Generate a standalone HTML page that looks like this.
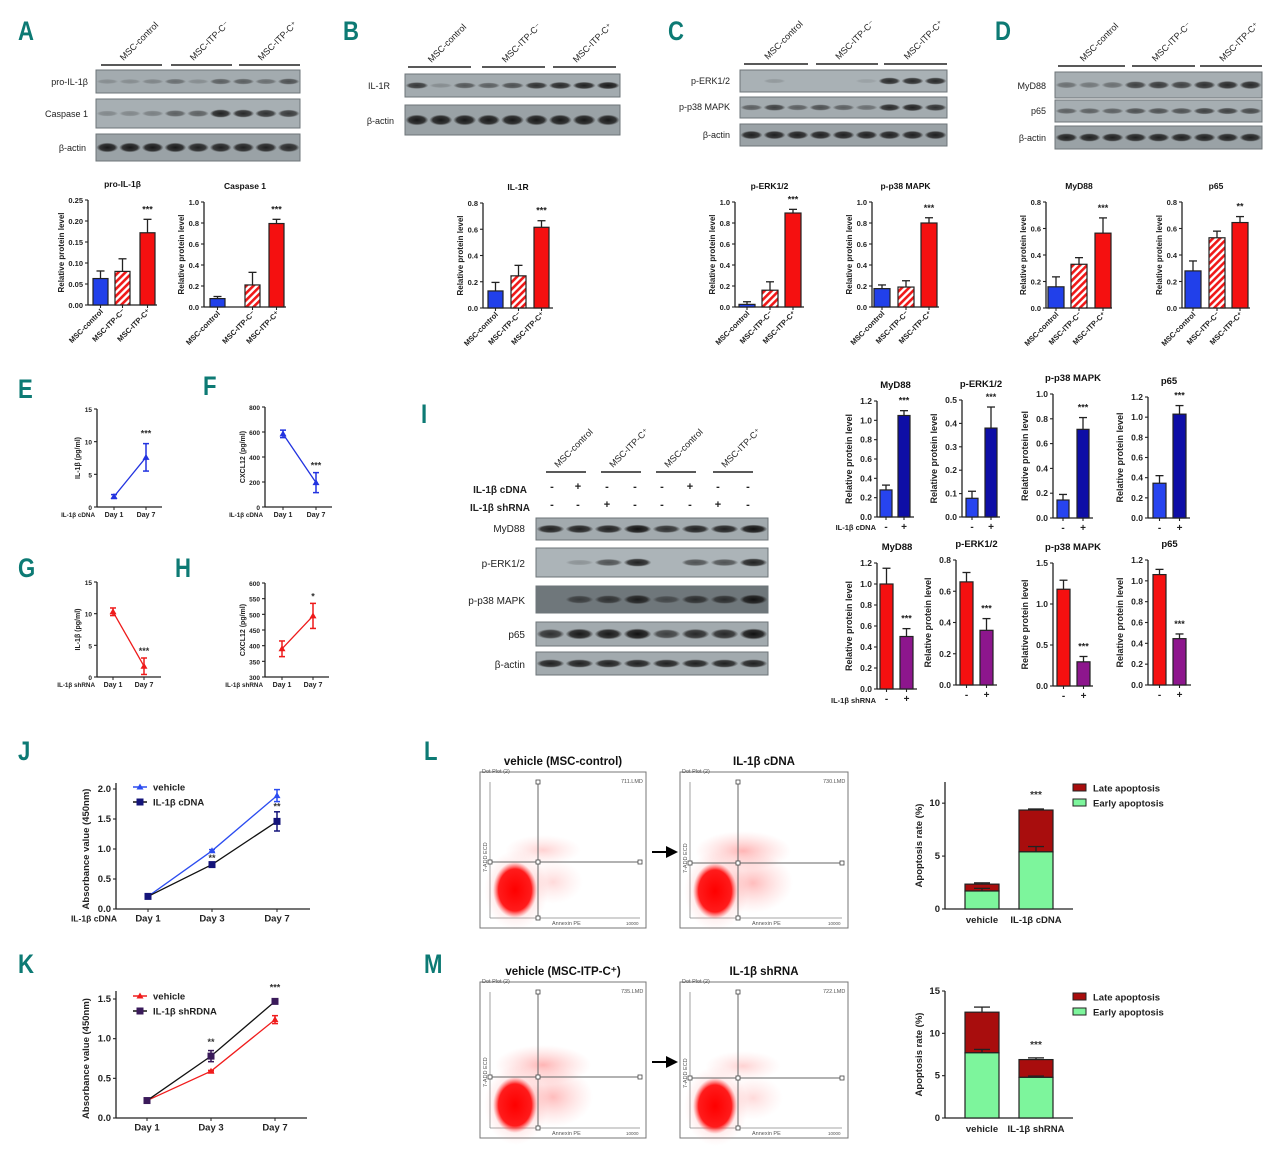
<!DOCTYPE html>
<html><head><meta charset="utf-8"><style>
html,body{margin:0;padding:0;background:#fff}
svg{display:block}
text{font-family:"Liberation Sans",Arial,sans-serif}
</style></head><body>
<svg id="fig" width="1280" height="1155" viewBox="0 0 1280 1155" xmlns="http://www.w3.org/2000/svg">
<defs>
<pattern id="hatch" patternUnits="userSpaceOnUse" width="5" height="5" patternTransform="rotate(45)">
<rect width="5" height="5" fill="#fff"/><rect width="2.6" height="5" fill="#f01818"/></pattern>
<radialGradient id="dense"><stop offset="0" stop-color="#f00" stop-opacity="1"/><stop offset="0.75" stop-color="#f11" stop-opacity="0.95"/><stop offset="1" stop-color="#f55" stop-opacity="0"/></radialGradient>
<radialGradient id="sparse"><stop offset="0" stop-color="#f44" stop-opacity="0.4"/><stop offset="1" stop-color="#f88" stop-opacity="0"/></radialGradient>
<radialGradient id="band"><stop offset="0" stop-color="#111" stop-opacity="1"/><stop offset="0.7" stop-color="#222" stop-opacity="0.9"/><stop offset="1" stop-color="#333" stop-opacity="0"/></radialGradient>
</defs>
</svg>
<script>
// ---------- data ----------
const catsABCD = ['MSC-control','MSC-ITP-C\u207B','MSC-ITP-C\u207A'];
const valsProIL=[0.063,0.080,0.172], errProIL=[0.018,0.030,0.032];
const valsCasp=[0.08,0.21,0.795], errCasp=[0.02,0.12,0.04];
const valsIL1R=[0.13,0.245,0.615], errIL1R=[0.065,0.08,0.05];
const valsERK=[0.025,0.16,0.895], errERK=[0.025,0.08,0.035];
const valsP38=[0.175,0.19,0.80], errP38=[0.035,0.06,0.05];
const valsMyD=[0.16,0.33,0.565], errMyD=[0.075,0.05,0.115];
const valsP65=[0.28,0.53,0.645], errP65=[0.075,0.05,0.045];
const signsI=['-','+'];
const valsIcMyD=[0.28,1.05], errIcMyD=[0.05,0.05];
const valsIcERK=[0.08,0.38], errIcERK=[0.03,0.09];
const valsIcP38=[0.145,0.715], errIcP38=[0.045,0.095];
const valsIcP65=[0.345,1.03], errIcP65=[0.075,0.085];
const valsIsMyD=[1.0,0.5], errIsMyD=[0.15,0.075];
const valsIsERK=[0.66,0.35], errIsERK=[0.06,0.075];
const valsIsP38=[1.18,0.295], errIsP38=[0.11,0.065];
const valsIsP65=[1.06,0.445], errIsP65=[0.05,0.045];
const daysEH=['Day 1','Day 7'];
const valsE=[1.6,7.6], errE=[0.3,2.1];
const valsF=[585,195], errF=[30,80];
const valsG=[10.3,1.7], errG=[0.6,1.3];
const valsH=[390,495], errH=[25,40];
const daysJK=['Day 1','Day 3','Day 7'];
const valsJveh=[0.21,0.97,1.89], errJveh=[0.01,0.02,0.1];
const valsJcdna=[0.21,0.74,1.46], errJcdna=[0.01,0.04,0.16];
const valsKveh=[0.22,0.59,1.24], errKveh=[0.01,0.01,0.05];
const valsKsh=[0.22,0.78,1.47], errKsh=[0.01,0.07,0.01];
const catsL=['vehicle','IL-1\u03B2 cDNA'];
const earlyL=[1.7,5.4], lateL=[0.65,3.95], errEarlyL=[0.25,0.5], errTotL=[0.12,0.1];
const catsM=['vehicle','IL-1\u03B2 shRNA'];
const earlyM=[7.7,4.8], lateM=[4.8,2.1], errEarlyM=[0.4,0.15], errTotM=[0.6,0.2];

// ---------- helpers ----------
const svg=document.getElementById('fig');
const NS='http://www.w3.org/2000/svg';
function mk(tag,a,p){const e=document.createElementNS(NS,tag);for(const k in a)e.setAttribute(k,a[k]);(p||svg).appendChild(e);return e;}
function tx(s,a,p){const e=mk('text',a,p);e.textContent=s;return e;}
function grp(){return mk('g',{});}

function letter(s,x,y){
  const t=tx(s,{x:x,y:y,'font-size':27,'font-weight':'bold',fill:'#0d7a74',transform:`scale(0.82,1)`});
  t.setAttribute('x',x/0.82);
  
  
}

function yAxis(g,ax,top,bot,min,max,step,dec,len,axTop){
  const sc=v=>bot-(v-min)/(max-min)*(bot-top);
  mk('line',{x1:ax,y1:(axTop!==undefined?axTop:top),x2:ax,y2:bot,stroke:'#222','stroke-width':1.3},g);
  for(let v=min;v<=max+1e-9;v+=step){
    const y=sc(v);
    mk('line',{x1:ax-3,y1:y,x2:ax,y2:y,stroke:'#222','stroke-width':1.1},g);
    const t=tx(v.toFixed(dec),{x:ax-5,y:y+3,'font-size':len||8,'font-weight':'bold','text-anchor':'end',fill:'#222'},g);
    
    
  }
  return sc;
}

function barChart(o){
  const g=grp();
  
  
  const sc=yAxis(g,o.ax,o.top,o.bot,0,o.max,o.step,o.dec,o.fs);
  mk('line',{x1:o.ax,y1:o.bot,x2:o.end,y2:o.bot,stroke:'#222','stroke-width':1.3},g);
  o.vals.forEach((v,i)=>{
    const x=o.xs[i],y=sc(v),ye=sc(v+o.errs[i]),cx=x+o.w/2;
    mk('line',{x1:cx,y1:y,x2:cx,y2:ye,stroke:'#222','stroke-width':1.3},g);
    mk('line',{x1:cx-4,y1:ye,x2:cx+4,y2:ye,stroke:'#222','stroke-width':1.3},g);
    const r=mk('rect',{x:x,y:y,width:o.w,height:o.bot-y,fill:o.fills[i],stroke:'#222','stroke-width':1.2},g);
    
    
    mk('line',{x1:cx,y1:o.bot,x2:cx,y2:o.bot+3,stroke:'#222','stroke-width':1.1},g);
    if(o.cats){
      const t=tx(o.cats[i],{x:0,y:0,'font-size':7.5,'font-weight':'bold','text-anchor':'end',fill:'#222',transform:`translate(${cx+3},${o.bot+7}) rotate(-45)`},g);
      
      
    } else {
      const t=tx(o.signs[i],{x:cx,y:o.bot+13,'font-size':10,'font-weight':'bold','text-anchor':'middle',fill:'#222'},g);
      
      
    }
  });
  const si=o.vals.length-1, sx=o.xs[si]+o.w/2;
  const st=tx(o.star,{x:sx,y:sc(o.vals[si]+o.errs[si])-7,'font-size':9,'font-weight':'bold','text-anchor':'middle',fill:'#222'},g);
  
  
  const ti=tx(o.title,{x:(o.ax+o.end)/2,y:o.top-13,'font-size':o.tfs||8.5,'font-weight':'bold','text-anchor':'middle',fill:'#111'},g);
  
  
  const yt=tx('Relative protein level',{x:0,y:0,'font-size':o.yfs||8,'font-weight':'bold','text-anchor':'middle',fill:'#222',transform:`translate(${o.ax-o.ytOff},${(o.top+o.bot)/2}) rotate(-90)`},g);
  
  
}

function blot(name,x,y,w,h,bg,ints,bh){
  const g=grp();
  
  
  mk('rect',{x:x,y:y,width:w,height:h,fill:bg,stroke:'#6d7478','stroke-width':1},g);
  const n=ints.length,lw=w/n;
  ints.forEach((v,i)=>{
    if(v<=0.02)return;
    const b=mk('ellipse',{cx:x+lw*(i+0.5),cy:y+h/2,rx:lw*0.48,ry:(bh||4)*(0.6+0.5*v),fill:'url(#band)',opacity:v},g);
    
    
  });
}
function rowLabel(s,x,y,fs){
  const t=tx(s,{x:x,y:y,'font-size':fs||9,'text-anchor':'end',fill:'#222'});
  
  
}
function header(s,x1,x2,y){
  const l=mk('line',{x1:x1,y1:y,x2:x2,y2:y,stroke:'#222','stroke-width':1.5});
  
  
  const t=tx(s,{x:0,y:0,'font-size':9,fill:'#222',transform:`translate(${(x1+x2)/2-8},${y-4}) rotate(-45)`});
  
  
}

function lineChart(o){
  const g=grp();
  
  
  const sc=yAxis(g,o.ax,o.top,o.bot,o.min,o.max,o.step,o.dec,o.fs,o.axTop);
  mk('line',{x1:o.ax,y1:o.bot,x2:o.end,y2:o.bot,stroke:'#222','stroke-width':1.2},g);
  o.xs.forEach((x,i)=>{
    mk('line',{x1:x,y1:o.bot,x2:x,y2:o.bot+3,stroke:'#222','stroke-width':1},g);
    const t=tx(o.cats[i],{x:x,y:o.bot+o.lfs+3,'font-size':o.lfs,'font-weight':'bold','text-anchor':'middle',fill:'#222'},g);
    
    
  });
  if(o.xlab){const t=tx(o.xlab,{x:o.ax-(o.xlabOff||0),y:o.bot+o.lfs+3,'font-size':o.lfs*0.9,'font-weight':'bold','text-anchor':'end',fill:'#222'},g);
    
    }
  o.series.forEach(s=>{
    const pts=s.vals.map((v,i)=>[o.xs[i],sc(v)]);
    const pl=mk('polyline',{points:pts.map(p=>p.join(',')).join(' '),fill:'none',stroke:s.line,'stroke-width':1.3},g);
    
    
    s.vals.forEach((v,i)=>{
      const x=o.xs[i],y1=sc(v+s.errs[i]),y2=sc(v-s.errs[i]);
      mk('line',{x1:x,y1:y1,x2:x,y2:y2,stroke:s.color,'stroke-width':1.5},g);
      mk('line',{x1:x-3,y1:y1,x2:x+3,y2:y1,stroke:s.color,'stroke-width':1.5},g);
      mk('line',{x1:x-3,y1:y2,x2:x+3,y2:y2,stroke:s.color,'stroke-width':1.5},g);
      const m=s.marker==='sq'?mk('rect',{x:x-3.5,y:sc(v)-3.5,width:7,height:7,fill:s.color},g)
        :mk('polygon',{points:`${x},${sc(v)-3.5} ${x-3.5},${sc(v)+2.5} ${x+3.5},${sc(v)+2.5}`,fill:s.color},g);
      
      
    });
  });
  (o.stars||[]).forEach(st=>{
    const t=tx(st[1],{x:o.xs[st[0]],y:sc(st[2]),'font-size':9,'font-weight':'bold','text-anchor':'middle',fill:'#333'},g);
    
    
  });
  const yt=tx(o.ytitle,{x:0,y:0,'font-size':o.yfs,'font-weight':'bold','text-anchor':'middle',fill:'#222',transform:`translate(${o.ax-o.ytOff},${(o.top+o.bot)/2}) rotate(-90)`},g);
  
  
  (o.legend||[]).forEach((L,i)=>{
    const y=o.legY+i*15;
    mk('line',{x1:o.legX,y1:y,x2:o.legX+14,y2:y,stroke:L.line,'stroke-width':1.5},g);
    if(L.marker==='sq')mk('rect',{x:o.legX+3.5,y:y-3.5,width:7,height:7,fill:L.color},g);
    else mk('polygon',{points:`${o.legX+7},${y-3.5} ${o.legX+3.5},${y+2.5} ${o.legX+10.5},${y+2.5}`,fill:L.color},g);
    const t=tx(L.label,{x:o.legX+20,y:y+3.5,'font-size':9.5,'font-weight':'bold',fill:'#222'},g);
    
    
  });
}

function stacked(o){
  const g=grp();
  
  
  const sc=yAxis(g,o.ax,o.top,o.bot,0,o.max,5,0,9.5);
  mk('line',{x1:o.ax,y1:o.bot,x2:o.end,y2:o.bot,stroke:'#222','stroke-width':1.3},g);
  o.early.forEach((e,i)=>{
    const x=o.xs[i],w=o.w,cx=x+w/2,tot=e+o.late[i];
    const ye=sc(tot+o.errTot[i]);
    mk('line',{x1:cx,y1:sc(tot),x2:cx,y2:ye,stroke:'#222','stroke-width':1.3},g);
    mk('line',{x1:cx-8,y1:ye,x2:cx+8,y2:ye,stroke:'#222','stroke-width':1.3},g);
    const r2=mk('rect',{x:x,y:sc(tot),width:w,height:sc(e)-sc(tot),fill:'#a80d0d',stroke:'#222','stroke-width':1.2},g);
    
    
    const ee=sc(e+o.errEarly[i]);
    mk('line',{x1:cx,y1:sc(e),x2:cx,y2:ee,stroke:'#222','stroke-width':1.3},g);
    mk('line',{x1:cx-8,y1:ee,x2:cx+8,y2:ee,stroke:'#222','stroke-width':1.3},g);
    const r1=mk('rect',{x:x,y:sc(e),width:w,height:o.bot-sc(e),fill:'#7df59c',stroke:'#222','stroke-width':1.2},g);
    
    
    const t=tx(o.cats[i],{x:cx,y:o.bot+14,'font-size':9.5,'font-weight':'bold','text-anchor':'middle',fill:'#222'},g);
    
    
  });
  const st=tx('***',{x:o.xs[1]+o.w/2,y:o.starY,'font-size':10,'font-weight':'bold','text-anchor':'middle',fill:'#333'},g);
  
  
  const yt=tx('Apoptosis rate (%)',{x:0,y:0,'font-size':9.5,'font-weight':'bold','text-anchor':'middle',fill:'#222',transform:`translate(${o.ax-23},${(o.top+o.bot)/2}) rotate(-90)`},g);
  
  
  [['Late apoptosis','#a80d0d'],['Early apoptosis','#7df59c']].forEach((L,i)=>{
    const y=o.legY+i*15;
    mk('rect',{x:1073,y:y-4,width:13,height:7,fill:L[1],stroke:'#222','stroke-width':1},g);
    const t=tx(L[0],{x:1093,y:y+3.5,'font-size':9.5,'font-weight':'bold',fill:'#222'},g);
    
    
  });
}

function flow(name,x,y,w,h,qx,qy,title,lmd,heavy){
  const g=grp();
  
  
  const tt=tx(title,{x:x+w/2,y:y-7,'font-size':11.5,'font-weight':'bold','text-anchor':'middle',fill:'#111'},g);
  
  
  mk('rect',{x:x,y:y,width:w,height:h,fill:'#fff',stroke:'#777','stroke-width':1},g);
  tx('Dot Plot (2)',{x:x+2,y:y+1,'font-size':5.5,fill:'#555'},g);
  tx(lmd,{x:x+w-25,y:y+11,'font-size':5.5,fill:'#555'},g);
  const l=x+10,b=y+h-10,r=x+w-6,t=y+10;
  mk('line',{x1:l,y1:t,x2:l,y2:b,stroke:'#888','stroke-width':0.8},g);
  mk('line',{x1:l,y1:b,x2:r,y2:b,stroke:'#888','stroke-width':0.8},g);
  tx('Annexin PE',{x:qx+14,y:y+h-3,'font-size':5.5,fill:'#555'},g);
  tx('10000',{x:r-14,y:y+h-3,'font-size':4.5,fill:'#555'},g);
  tx('7-ADD ECD',{x:0,y:0,'font-size':5.5,fill:'#555',transform:`translate(${x+7},${qy+10}) rotate(-90)`},g);
  mk('ellipse',{cx:qx+5,cy:qy-12,rx:heavy?48:38,ry:heavy?20:15,fill:'url(#sparse)',opacity:heavy?1:0.6},g);
  mk('ellipse',{cx:qx+15,cy:qy+20,rx:heavy?40:30,ry:heavy?30:22,fill:'url(#sparse)',opacity:heavy?0.9:0.5},g);
  mk('ellipse',{cx:qx-22,cy:qy+28,rx:32,ry:40,fill:'url(#sparse)'},g);
  const d=mk('ellipse',{cx:qx-23,cy:qy+28,rx:22,ry:28,fill:'url(#dense)'},g);
  
  
  mk('line',{x1:qx,y1:t,x2:qx,y2:b,stroke:'#666','stroke-width':1},g);
  mk('line',{x1:l,y1:qy,x2:r,y2:qy,stroke:'#666','stroke-width':1},g);
  [[qx,t],[qx,b],[l,qy],[r,qy],[qx,qy]].forEach(p=>mk('rect',{x:p[0]-2,y:p[1]-2,width:4,height:4,fill:'#fff',stroke:'#444','stroke-width':0.8},g));
}
function arrow(x1,x2,y){
  const g=grp();
  
  
  mk('line',{x1:x1,y1:y,x2:x2-10,y2:y,stroke:'#000','stroke-width':2},g);
  mk('polygon',{points:`${x2},${y} ${x2-12},${y-6} ${x2-12},${y+6}`,fill:'#000'},g);
}

// ---------- panel letters ----------
[['A',18,40],['B',343,40],['C',668,40],['D',995,40],['E',18,398],['F',203,395],['G',18,577],['H',175,577],['I',421,423],['J',18,760],['K',18,973],['L',424,760],['M',424,973]].forEach(a=>letter(a[0],a[1],a[2]));

// ---------- blots A-D ----------
header('MSC-control',101,162,65);header('MSC-ITP-C\u207B',171,232,65);header('MSC-ITP-C\u207A',239,300,65);
blot('blot-pro-il1b',96,70,204,23,'#a3abaf',[.2,.2,.25,.4,.2,.5,.5,.4,.6],3.5);rowLabel('pro-IL-1\u03B2',88,85);
blot('blot-caspase1',96,99,204,29,'#a7afb3',[.25,.25,.3,.5,.5,.9,.85,.8,.75],4);rowLabel('Caspase 1',88,117);
blot('blot-actin-a',96,134,204,27,'#9aa2a6',[.95,.95,.95,.95,.9,.9,.9,.9,.85],4.5);rowLabel('\u03B2-actin',86,151);
header('MSC-control',408,471,67);header('MSC-ITP-C\u207B',482,545,67);header('MSC-ITP-C\u207A',553,616,67);
blot('blot-il1r',405,74,215,23,'#a3abaf',[.75,.2,.55,.5,.6,.8,.85,.9,.95],3.5);rowLabel('IL-1R',390,89);
blot('blot-actin-b',405,105,215,30,'#9aa2a6',[.95,.95,.95,.95,.95,.95,.95,.95,.95],5);rowLabel('\u03B2-actin',394,124);
header('MSC-control',744,808,64);header('MSC-ITP-C\u207B',816,878,64);header('MSC-ITP-C\u207A',884,947,64);
blot('blot-perk-c',740,70,207,22,'#a9b1b5',[0,.15,0,0,0,.1,.85,.85,.85],3.5);rowLabel('p-ERK1/2',730,84);
blot('blot-pp38-c',740,97,207,21,'#a3abaf',[.5,.7,.5,.6,.5,.4,.85,.9,.8],3.5);rowLabel('p-p38 MAPK',730,110);
blot('blot-actin-c',740,124,207,22,'#9aa2a6',[.9,.9,.9,.9,.9,.9,.9,.9,.9],4);rowLabel('\u03B2-actin',730,138);
header('MSC-control',1058,1125,66);header('MSC-ITP-C\u207B',1132,1195,66);header('MSC-ITP-C\u207A',1200,1262,66);
blot('blot-myd88-d',1055,72,207,26,'#a6aeb2',[.4,.35,.4,.7,.75,.7,.8,.85,.85],4);rowLabel('MyD88',1046,89);
blot('blot-p65-d',1055,100,207,22,'#a6aeb2',[.5,.5,.5,.6,.6,.6,.7,.7,.65],3.5);rowLabel('p65',1046,114);
blot('blot-actin-d',1055,126,207,23,'#9aa2a6',[.9,.9,.9,.9,.9,.9,.9,.9,.9],4);rowLabel('\u03B2-actin',1046,141);

// ---------- blot I ----------
header('MSC-control',546,586,472);header('MSC-ITP-C\u207A',601,641,472);header('MSC-control',656,696,472);header('MSC-ITP-C\u207A',713,753,472);
(function(){
  const lanes=[552,578,607,635,662,690,718,748];
  const cd=['-','+','-','-','-','+','-','-'], sh=['-','-','+','-','-','-','+','-'];
  const a=tx('IL-1\u03B2  cDNA',{x:527,y:493,'font-size':10,'font-weight':'bold','text-anchor':'end',fill:'#222'});
  
  const b=tx('IL-1\u03B2 shRNA',{x:530,y:511,'font-size':10,'font-weight':'bold','text-anchor':'end',fill:'#222'});
  
  lanes.forEach((x,i)=>{tx(cd[i],{x:x,y:490,'font-size':11,'font-weight':'bold','text-anchor':'middle',fill:'#222'});
    tx(sh[i],{x:x,y:508,'font-size':11,'font-weight':'bold','text-anchor':'middle',fill:'#222'});});
})();
blot('blot-myd88-i',536,518,232,22,'#a2aaae',[.9,.9,.9,1,.8,.9,.9,1],4);rowLabel('MyD88',525,532,10);
blot('blot-perk-i',536,548,232,29,'#acb4b8',[0,.2,.6,.9,0,.6,.6,.9],4);rowLabel('p-ERK1/2',525,567,10);
blot('blot-pp38-i',536,586,232,27,'#6f777b',[0,.6,.7,.9,.5,.75,.75,1],4.5);rowLabel('p-p38 MAPK',525,604,10);
blot('blot-p65-i',536,622,232,24,'#a2aaae',[.8,.95,.95,1,.7,.85,.85,1],5);rowLabel('p65',525,638,10);
blot('blot-actin-i',536,652,232,23,'#a2aaae',[.9,.9,.9,.9,.9,.9,.9,.9],4);rowLabel('\u03B2-actin',525,668,10);

// ---------- bar charts A-D ----------
const F3=['#2140ea','url(#hatch)','#f51010'];
barChart({name:'chart-pro-il1b',ax:88,top:200,bot:305,end:157,max:0.25,step:0.05,dec:2,xs:[93,115,140],w:15,vals:valsProIL,errs:errProIL,fills:F3,cats:catsABCD,star:'***',title:'pro-IL-1\u03B2',ytOff:24,fs:7.5});
barChart({name:'chart-caspase1',ax:204,top:202,bot:307,end:286,max:1.0,step:0.2,dec:1,xs:[210,245,269],w:15,vals:valsCasp,errs:errCasp,fills:F3,cats:catsABCD,star:'***',title:'Caspase 1',ytOff:20,fs:7.5});
barChart({name:'chart-il1r',ax:483,top:203,bot:308,end:553,max:0.8,step:0.2,dec:1,xs:[488,511,534],w:15,vals:valsIL1R,errs:errIL1R,fills:F3,cats:catsABCD,star:'***',title:'IL-1R',ytOff:20,fs:7.5});
barChart({name:'chart-perk',ax:735,top:202,bot:307,end:804,max:1.0,step:0.2,dec:1,xs:[739,762,785],w:16,vals:valsERK,errs:errERK,fills:F3,cats:catsABCD,star:'***',title:'p-ERK1/2',ytOff:20,fs:7.5});
barChart({name:'chart-pp38',ax:872,top:202,bot:307,end:939,max:1.0,step:0.2,dec:1,xs:[874,898,921],w:16,vals:valsP38,errs:errP38,fills:F3,cats:catsABCD,star:'***',title:'p-p38 MAPK',ytOff:20,fs:7.5});
barChart({name:'chart-myd88',ax:1046,top:202,bot:308,end:1112,max:0.8,step:0.2,dec:1,xs:[1048,1071,1095],w:16,vals:valsMyD,errs:errMyD,fills:F3,cats:catsABCD,star:'***',title:'MyD88',ytOff:20,fs:7.5});
barChart({name:'chart-p65',ax:1182,top:202,bot:308,end:1250,max:0.8,step:0.2,dec:1,xs:[1185,1209,1232],w:16,vals:valsP65,errs:errP65,fills:F3,cats:catsABCD,star:'**',title:'p65',ytOff:20,fs:7.5});

// ---------- panel I bar charts ----------
const FC=['#2744ef','#0e0ea6'], FS=['#f51010','#8d168d'];
barChart({name:'chart-i-myd88-cdna',ax:877,top:401,bot:517,end:914,max:1.2,step:0.2,dec:1,xs:[880,898],w:12,vals:valsIcMyD,errs:errIcMyD,fills:FC,signs:signsI,star:'***',title:'MyD88',ytOff:25,fs:8.5,yfs:9,tfs:9.5});
barChart({name:'chart-i-perk-cdna',ax:962,top:400,bot:517,end:1000,max:0.5,step:0.1,dec:1,xs:[966,985],w:12,vals:valsIcERK,errs:errIcERK,fills:FC,signs:signsI,star:'***',title:'p-ERK1/2',ytOff:25,fs:8.5,yfs:9,tfs:9.5});
barChart({name:'chart-i-pp38-cdna',ax:1053,top:394,bot:518,end:1093,max:1.0,step:0.2,dec:1,xs:[1057,1077],w:12,vals:valsIcP38,errs:errIcP38,fills:FC,signs:signsI,star:'***',title:'p-p38 MAPK',ytOff:25,fs:8.5,yfs:9,tfs:9.5});
barChart({name:'chart-i-p65-cdna',ax:1148,top:397,bot:518,end:1190,max:1.2,step:0.2,dec:1,xs:[1153,1173],w:13,vals:valsIcP65,errs:errIcP65,fills:FC,signs:signsI,star:'***',title:'p65',ytOff:25,fs:8.5,yfs:9,tfs:9.5});
barChart({name:'chart-i-myd88-shrna',ax:877,top:563,bot:689,end:917,max:1.2,step:0.2,dec:1,xs:[880,900],w:13,vals:valsIsMyD,errs:errIsMyD,fills:FS,signs:signsI,star:'***',title:'MyD88',ytOff:25,fs:8.5,yfs:9,tfs:9.5});
barChart({name:'chart-i-perk-shrna',ax:956,top:560,bot:685,end:997,max:0.8,step:0.2,dec:1,xs:[960,980],w:13,vals:valsIsERK,errs:errIsERK,fills:FS,signs:signsI,star:'***',title:'p-ERK1/2',ytOff:25,fs:8.5,yfs:9,tfs:9.5});
barChart({name:'chart-i-pp38-shrna',ax:1053,top:563,bot:686,end:1093,max:1.5,step:0.5,dec:1,xs:[1057,1077],w:13,vals:valsIsP38,errs:errIsP38,fills:FS,signs:signsI,star:'***',title:'p-p38 MAPK',ytOff:25,fs:8.5,yfs:9,tfs:9.5});
barChart({name:'chart-i-p65-shrna',ax:1148,top:560,bot:685,end:1191,max:1.2,step:0.2,dec:1,xs:[1153,1173],w:13,vals:valsIsP65,errs:errIsP65,fills:FS,signs:signsI,star:'***',title:'p65',ytOff:25,fs:8.5,yfs:9,tfs:9.5});
(function(){
  const a=tx('IL-1\u03B2 cDNA',{x:876,y:530,'font-size':7.5,'font-weight':'bold','text-anchor':'end',fill:'#222'});
  
  const b=tx('IL-1\u03B2 shRNA',{x:876,y:703,'font-size':7.5,'font-weight':'bold','text-anchor':'end',fill:'#222'});
  
})();

// ---------- E-H ----------
const B='#2233e0', R='#ee1a1a';
lineChart({name:'chart-e',ax:97,top:409,bot:507,end:162,min:0,max:15,step:5,dec:0,fs:6.5,xs:[114,146],cats:daysEH,lfs:7,xlab:'IL-1\u03B2 cDNA',xlabOff:2,series:[{vals:valsE,errs:errE,color:B,line:B,marker:'tri'}],stars:[[1,'***',10.8]],ytitle:'IL-1\u03B2 (pg/ml)',yfs:7,ytOff:17});
lineChart({name:'chart-f',ax:265,top:407,bot:507,end:332,min:0,max:800,step:200,dec:0,fs:6.5,xs:[283,316],cats:daysEH,lfs:7,xlab:'IL-1\u03B2 cDNA',xlabOff:2,series:[{vals:valsF,errs:errF,color:B,line:B,marker:'tri'}],stars:[[1,'***',310]],ytitle:'CXCL12 (pg/ml)',yfs:7,ytOff:20});
lineChart({name:'chart-g',ax:97,top:582,bot:677,end:161,min:0,max:15,step:5,dec:0,fs:6.5,xs:[113,144],cats:daysEH,lfs:7,xlab:'IL-1\u03B2 shRNA',xlabOff:2,series:[{vals:valsG,errs:errG,color:R,line:R,marker:'tri'}],stars:[[1,'***',3.6]],ytitle:'IL-1\u03B2 (pg/ml)',yfs:7,ytOff:17});
lineChart({name:'chart-h',ax:265,top:583,bot:677,end:329,min:300,max:600,step:50,dec:0,fs:6.5,xs:[282,313],cats:daysEH,lfs:7,xlab:'IL-1\u03B2 shRNA',xlabOff:2,series:[{vals:valsH,errs:errH,color:R,line:R,marker:'tri'}],stars:[[1,'*',547]],ytitle:'CXCL12 (pg/ml)',yfs:7,ytOff:20});

// ---------- J, K ----------
lineChart({name:'chart-j',ax:116,top:789,axTop:783,bot:909,end:310,min:0,max:2.0,step:0.5,dec:1,fs:9.5,xs:[148,212,277],cats:daysJK,lfs:9.5,xlab:'IL-1\u03B2 cDNA',xlabOff:-1,
  series:[{vals:valsJveh,errs:errJveh,color:'#2b4cf0',line:'#2b4cf0',marker:'tri'},{vals:valsJcdna,errs:errJcdna,color:'#14147a',line:'#111',marker:'sq'}],
  stars:[[1,'**',0.8],[2,'**',1.66]],ytitle:'Absorbance value (450nm)',yfs:9.5,ytOff:27,
  legX:133,legY:787,legend:[{label:'vehicle',color:'#2b4cf0',line:'#2b4cf0',marker:'tri'},{label:'IL-1\u03B2 cDNA',color:'#14147a',line:'#111',marker:'sq'}]});
lineChart({name:'chart-k',ax:116,top:999,axTop:991,bot:1118,end:307,min:0,max:1.5,step:0.5,dec:1,fs:9.5,xs:[147,211,275],cats:daysJK,lfs:9.5,
  series:[{vals:valsKveh,errs:errKveh,color:'#f01c1c',line:'#f01c1c',marker:'tri'},{vals:valsKsh,errs:errKsh,color:'#3a1a5a',line:'#111',marker:'sq'}],
  stars:[[1,'**',0.92],[2,'***',1.61]],ytitle:'Absorbance value (450nm)',yfs:9.5,ytOff:27,
  legX:133,legY:996,legend:[{label:'vehicle',color:'#f01c1c',line:'#f01c1c',marker:'tri'},{label:'IL-1\u03B2 shRDNA',color:'#3a1a5a',line:'#111',marker:'sq'}]});

// ---------- flow ----------
flow('flow-vehicle-control',480,772,166,156,538,862,'vehicle (MSC-control)','711.LMD',false);
flow('flow-il1b-cdna',680,772,168,156,738,863,'IL-1\u03B2 cDNA','730.LMD',true);
arrow(652,678,852);
flow('flow-vehicle-itp',480,982,166,156,538,1077,'vehicle (MSC-ITP-C\u207A)','735.LMD',true);
flow('flow-il1b-shrna',680,982,168,156,738,1078,'IL-1\u03B2 shRNA','722.LMD',false);
arrow(652,678,1062);

// ---------- stacked ----------
stacked({name:'chart-apoptosis-l',ax:945,top:782,bot:909,end:1073,max:12,xs:[965,1019],w:34,early:earlyL,late:lateL,errEarly:errEarlyL,errTot:errTotL,cats:catsL,starY:798,legY:788});
stacked({name:'chart-apoptosis-m',ax:945,top:991,bot:1118,end:1073,max:15,xs:[965,1019],w:34,early:earlyM,late:lateM,errEarly:errEarlyM,errTot:errTotM,cats:catsM,starY:1048,legY:997});
</script>
</body></html>
